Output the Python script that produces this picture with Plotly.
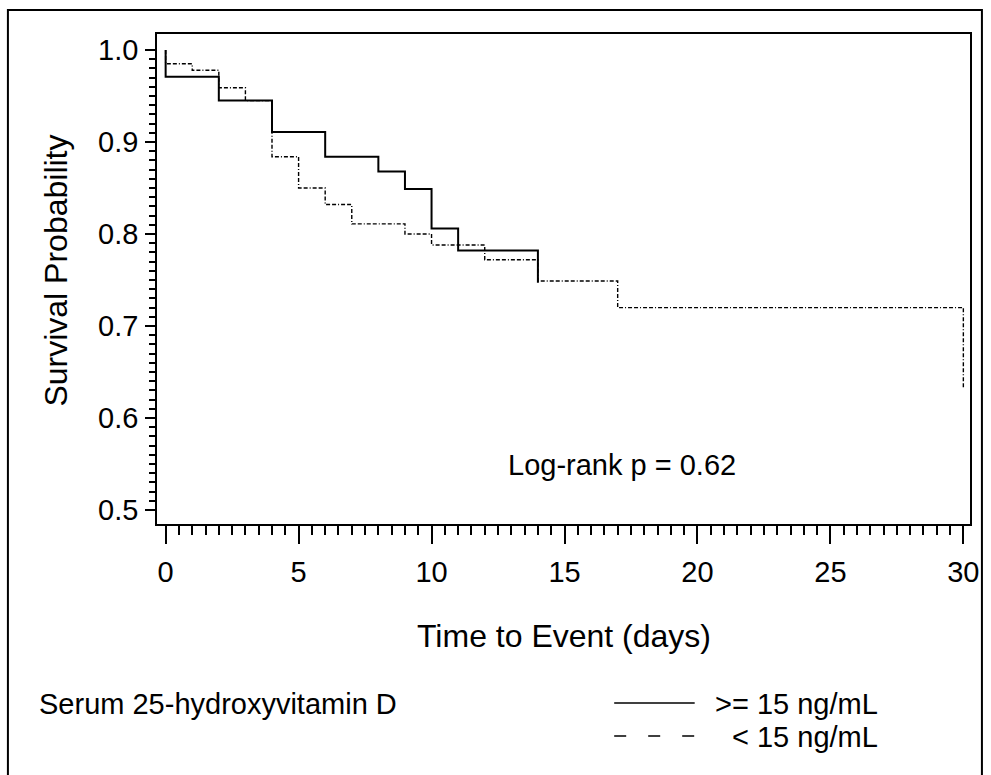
import numpy as np
import plotly.graph_objects as go

# ---- data ----
time_hi = [0, 0, 2, 4, 6, 8, 9, 10, 11, 14]
surv_hi = [1.0, 0.971, 0.945, 0.911, 0.884, 0.868, 0.849, 0.806, 0.782, 0.747]

time_lo = [0, 0, 1, 2, 3, 4, 5, 6, 7, 9, 10, 12, 14, 17, 30]
surv_lo = [1.0, 0.985, 0.978, 0.959, 0.945, 0.884, 0.850, 0.832, 0.811, 0.800,
           0.788, 0.772, 0.749, 0.720, 0.632]

x_ticks = [0, 5, 10, 15, 20, 25, 30]
y_ticks = [0.5, 0.6, 0.7, 0.8, 0.9, 1.0]
y_ticklabels = ["0.5", "0.6", "0.7", "0.8", "0.9", "1.0"]

group_title = "Serum 25-hydroxyvitamin D"
name_hi = ">= 15 ng/mL"
name_lo = "< 15 ng/mL"
pval_text = "Log-rank p = 0.62"

# ---- layout geometry ----
W, H = 991, 775
L, R, T, B = 157, 975, 34, 524
FONT = "Liberation Sans, Arial, Helvetica, sans-serif"
FS = 29
FS_TITLE = 32


def px(xp):
    return (xp - L) / (R - L)


def py(yp):
    return (B - yp) / (B - T)


fig = go.Figure()
fig.add_trace(go.Scatter(x=time_hi, y=surv_hi, mode="lines", line_shape="hv",
                         name=name_hi, showlegend=False,
                         line=dict(color="black", width=2)))
fig.add_trace(go.Scatter(x=time_lo, y=surv_lo, mode="lines", line_shape="hv",
                         name=name_lo, showlegend=False,
                         line=dict(color="black", width=1.4,
                                   dash="4px,2px,4px,2px,1px,2px")))

fig.update_layout(
    width=W, height=H,
    margin=dict(l=L, r=W - R, t=T, b=H - B, pad=0),
    paper_bgcolor="white", plot_bgcolor="white",
    font=dict(family=FONT, color="black", size=FS),
    showlegend=False,
)

fig.update_xaxes(
    range=[-0.325, 30.25], showgrid=False, zeroline=False,
    showline=True, linecolor="black", linewidth=1.5, mirror=True,
    tickmode="array", tickvals=x_ticks, ticks="outside", ticklen=18,
    tickwidth=1.5, tickcolor="black", ticklabelstandoff=3,
    tickfont=dict(size=FS, family=FONT),
    minor=dict(tickmode="array", tickvals=list(np.arange(0, 30.01, 0.5)),
               ticks="outside", ticklen=9, tickwidth=1.5, tickcolor="black",
               showgrid=False),
)
fig.update_yaxes(
    range=[0.4848, 1.0174], showgrid=False, zeroline=False,
    showline=True, linecolor="black", linewidth=1.5, mirror=True,
    tickmode="array", tickvals=y_ticks, ticktext=y_ticklabels,
    ticks="outside", ticklen=10, tickwidth=1.5, tickcolor="black",
    ticklabelstandoff=1, tickfont=dict(size=FS, family=FONT),
    minor=dict(tickmode="array", tickvals=list(np.round(np.arange(0.5, 1.0001, 0.01), 2)),
               ticks="outside", ticklen=6, tickwidth=1.5, tickcolor="black",
               showgrid=False),
)

annotations = [
    dict(text="Time to Event (days)", xref="paper", yref="paper",
         x=px(566), y=py(636), xanchor="center", yanchor="middle",
         showarrow=False, font=dict(size=FS_TITLE, family=FONT)),
    dict(text="Survival Probability", xref="paper", yref="paper",
         x=px(55), y=py(271), xanchor="center", yanchor="middle",
         textangle=-90, showarrow=False, font=dict(size=FS_TITLE, family=FONT)),
    dict(text=pval_text, xref="paper", yref="paper",
         x=px(625), y=py(465), xanchor="center", yanchor="middle",
         showarrow=False, font=dict(size=FS, family=FONT)),
    dict(text=group_title, xref="paper", yref="paper",
         x=px(36), y=py(704), xanchor="left", yanchor="middle",
         showarrow=False, font=dict(size=FS, family=FONT)),
    dict(text=name_hi, xref="paper", yref="paper",
         x=px(884), y=py(704), xanchor="right", yanchor="middle",
         showarrow=False, font=dict(size=FS, family=FONT)),
    dict(text=name_lo, xref="paper", yref="paper",
         x=px(884), y=py(737), xanchor="right", yanchor="middle",
         showarrow=False, font=dict(size=FS, family=FONT)),
]
fig.update_layout(annotations=annotations)

shapes = [
    # outer frame
    dict(type="rect", xref="paper", yref="paper",
         x0=px(7), x1=px(987), y0=py(800), y1=py(10),
         line=dict(color="black", width=2), fillcolor="rgba(0,0,0,0)"),
    # legend samples
    dict(type="line", xref="paper", yref="paper",
         x0=px(617), x1=px(698), y0=py(703), y1=py(703),
         line=dict(color="black", width=1.5)),
    dict(type="line", xref="paper", yref="paper",
         x0=px(617), x1=px(698), y0=py(736), y1=py(736),
         line=dict(color="black", width=1.5, dash="12px,22px")),
]
fig.update_layout(shapes=shapes)

fig.write_html("out.html")
